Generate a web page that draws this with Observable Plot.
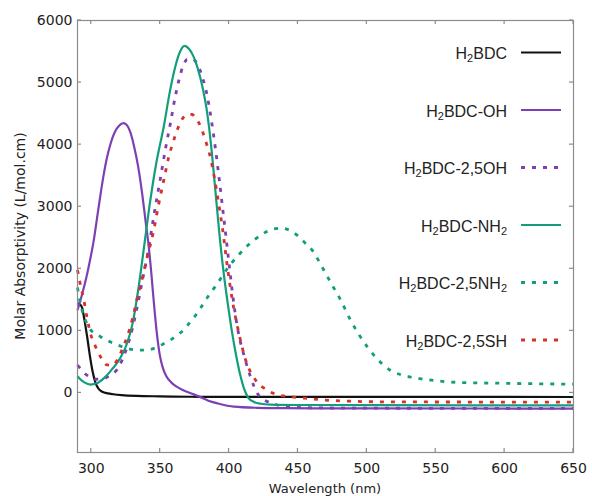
<!DOCTYPE html>
<html>
<head>
<meta charset="utf-8">
<script src="https://cdn.jsdelivr.net/npm/d3@7"></script>
<script src="https://cdn.jsdelivr.net/npm/@observablehq/plot@0.6"></script>
<style>
  html, body { margin: 0; padding: 0; background: #fff; }
  #chart { width: 592px; height: 496px; }
</style>
</head>
<body>
<div id="chart"></div>
<script>
// ---- data: [wavelength (nm), molar absorptivity] ----
const H2BDC = [[290,1444],[292,1420],[293.4,1368],[295,1180],[297,905],[299.4,540],[301,340],[303,165],[305,75],[308,18],[312,-8],[316,-21],[322,-35],[333,-48],[350,-55],[372,-62],[400,-64],[450,-65],[550,-65],[650,-66]];
const H2BDC_OH = [[290,1331],[293,1560],[296.5,1867],[299,2130],[301.4,2405],[305,2941],[308.7,3477],[311.5,3800],[314,4015],[317,4200],[320,4300],[323.5,4345],[326,4310],[328,4220],[331,3980],[334,3650],[337,3200],[339.5,2750],[341.5,2400],[343.5,1950],[345,1560],[347.4,1000],[349.8,600],[352,400],[354.7,260],[358,170],[362,100],[366,50],[371.6,0],[378.9,-64],[385,-125],[392,-170],[403.5,-222],[420,-240],[440,-246],[500,-250],[650,-252]];
const H2BDC_25OH = [[290,447],[293,370],[296,300],[299.4,255],[304,220],[309,232],[314,290],[318.8,380],[323,560],[326,743],[330,1050],[333,1350],[337,1800],[341.8,2350],[345,2800],[350,3436],[354,3950],[357.5,4352],[361,4780],[363.6,5040],[366.5,5260],[369.7,5375],[373,5380],[376.9,5300],[380.5,5100],[384.2,4782],[387,4420],[390.2,3920],[393,3420],[395.1,3021],[397.5,2566],[400,2080],[402.4,1620],[406,1062],[410.9,600],[415.7,250],[420.6,-10],[424,-90],[427.8,-140],[435.1,-195],[445,-228],[460,-240],[500,-246],[650,-250]];
const H2BDC_NH2 = [[290,270],[292,220],[295,170],[299.5,135],[304,155],[309,235],[315,380],[321,560],[326,800],[330,1120],[334,1650],[338,2300],[342.5,3050],[347,3680],[352.7,4300],[357,4850],[361,5260],[364.5,5500],[367.7,5590],[371,5540],[374,5430],[377,5250],[381,4900],[384.2,4500],[387,3980],[390,3280],[393,2560],[396,1950],[399,1450],[402,1000],[405,620],[408,300],[411,60],[414,-80],[418,-145],[423,-175],[430,-188],[450,-195],[500,-198],[650,-200]];
const H2BDC_25NH2 = [[290,1700],[292,1450],[294.6,1240],[297,1110],[299.4,1020],[303,950],[306.7,905],[311,850],[316.4,798],[321,755],[326,717],[333,692],[340,690],[347.4,735],[352,785],[357.1,848],[362,925],[366.8,1009],[371,1120],[376,1260],[380,1390],[385,1560],[391.5,1761],[398,1980],[406,2200],[412,2340],[418,2460],[425,2570],[432,2640],[438,2655],[444,2620],[450,2530],[455,2420],[461,2280],[467,2050],[474,1770],[481,1496],[488,1180],[494,950],[500.6,733],[507,560],[517,366],[525,290],[532,254],[545,210],[566,170],[600,155],[650,140]];
const H2BDC_25SH = [[290,1982],[292,1750],[294.6,1497],[297,1200],[299.4,960],[303,750],[306.7,582],[311.5,450],[315,445],[318.8,528],[322,680],[326,905],[330,1200],[333,1497],[337,1850],[341,2220],[345.4,2628],[349,3050],[352.7,3436],[356,3780],[360,4083],[363.5,4300],[367.2,4450],[370.5,4490],[373.2,4486],[376,4420],[379.3,4297],[382,4130],[384.2,3974],[387,3740],[389.5,3450],[392.7,3021],[395.1,2672],[398.8,2029],[402.4,1492],[407.2,956],[412.1,526],[419.3,204],[427.8,43],[436.3,-37],[445,-62],[455,-85],[470,-115],[490,-135],[520,-145],[650,-148]];

const xTicks = [300, 350, 400, 450, 500, 550, 600, 650];
const yTicks = [0, 1000, 2000, 3000, 4000, 5000, 6000];

const series = [
  {data: H2BDC,       pre: "H", sub: "2", post: "BDC",        tail: "",  color: "#111111", dash: null},
  {data: H2BDC_OH,    pre: "H", sub: "2", post: "BDC-OH",     tail: "",  color: "#7e3fb3", dash: null},
  {data: H2BDC_25OH,  pre: "H", sub: "2", post: "BDC-2,5OH",  tail: "",  color: "#7e3fb3", dash: "4,7"},
  {data: H2BDC_NH2,   pre: "H", sub: "2", post: "BDC-NH",     tail: "2", color: "#129e7b", dash: null},
  {data: H2BDC_25NH2, pre: "H", sub: "2", post: "BDC-2,5NH",  tail: "2", color: "#129e7b", dash: "4,7"},
  {data: H2BDC_25SH,  pre: "H", sub: "2", post: "BDC-2,5SH",  tail: "",  color: "#d6312b", dash: "4,7"}
];

const W = 592, H = 496;
const mL = 77, mR = 19, mT = 20, mB = 44;

const plot = Plot.plot({
  width: W,
  height: H,
  marginLeft: mL,
  marginRight: mR,
  marginTop: mT,
  marginBottom: mB,
  style: {fontFamily: "DejaVu Sans", fontSize: "14px", color: "#222", background: "#fff"},
  x: {domain: [290, 650]},
  y: {domain: [-960, 6000]},
  marks: [
    ...series.map(s => Plot.line(s.data, {
      x: d => d[0], y: d => d[1], curve: "monotone-x",
      stroke: s.color, strokeWidth: s.dash ? 2.8 : 2.2,
      strokeDasharray: s.dash ?? undefined,
      strokeLinecap: "butt"
    })),
    Plot.frame({stroke: "#8c8c8c", strokeWidth: 1.2}),
    Plot.axisX({anchor: "bottom", ticks: xTicks, tickSize: 0, tickPadding: 11, label: null, fill: "#222", tickFormat: d => String(d)}),
    Plot.axisY({anchor: "left", ticks: yTicks, tickSize: 0, tickPadding: 5, label: null, fill: "#222", tickFormat: d => String(d)})
  ]
});

document.getElementById("chart").appendChild(plot);

const svg = d3.select(plot);
const sx = plot.scale("x"), sy = plot.scale("y");
const fLeft = mL, fRight = W - mR, fTop = mT, fBottom = H - mB;

// inward tick marks on all four sides, placed through Plot's scales
const tk = svg.append("g").attr("stroke", "#8c8c8c").attr("stroke-width", 1.2);
xTicks.forEach(v => {
  const px = sx.apply(v);
  tk.append("line").attr("x1", px).attr("x2", px).attr("y1", fBottom).attr("y2", fBottom - 4);
  tk.append("line").attr("x1", px).attr("x2", px).attr("y1", fTop).attr("y2", fTop + 4);
});
yTicks.forEach(v => {
  const py = sy.apply(v);
  tk.append("line").attr("x1", fLeft).attr("x2", fLeft + 4).attr("y1", py).attr("y2", py);
  tk.append("line").attr("x1", fRight).attr("x2", fRight - 4).attr("y1", py).attr("y2", py);
});

// axis titles
svg.append("text")
  .attr("x", (fLeft + fRight) / 2).attr("y", 493)
  .attr("text-anchor", "middle")
  .attr("font-family", "DejaVu Sans").attr("font-size", 13).attr("fill", "#222")
  .text("Wavelength (nm)");
svg.append("text")
  .attr("transform", `translate(25,${(fTop + fBottom) / 2}) rotate(-90)`)
  .attr("text-anchor", "middle")
  .attr("font-family", "DejaVu Sans").attr("font-size", 14).attr("fill", "#222")
  .text("Molar Absorptivity (L/mol.cm)");

// legend inside plot, top right
const lg = svg.append("g").attr("font-family", "Liberation Sans, Arial, sans-serif").attr("font-size", 16).attr("fill", "#222");
series.forEach((s, i) => {
  const yy = 52.5 + i * 57.5;
  const t = lg.append("text").attr("x", 507).attr("y", yy + 6.5).attr("text-anchor", "end");
  t.append("tspan").text(s.pre);
  t.append("tspan").attr("font-size", 11).attr("dy", 3).text(s.sub);
  t.append("tspan").attr("dy", -3).text(s.post);
  if (s.tail) t.append("tspan").attr("font-size", 11).attr("dy", 3).text(s.tail);
  lg.append("line")
    .attr("x1", 521).attr("x2", 561).attr("y1", yy).attr("y2", yy)
    .attr("stroke", s.color).attr("stroke-width", s.dash ? 2.8 : 2.2)
    .attr("stroke-dasharray", s.dash);
});
</script>
</body>
</html>
